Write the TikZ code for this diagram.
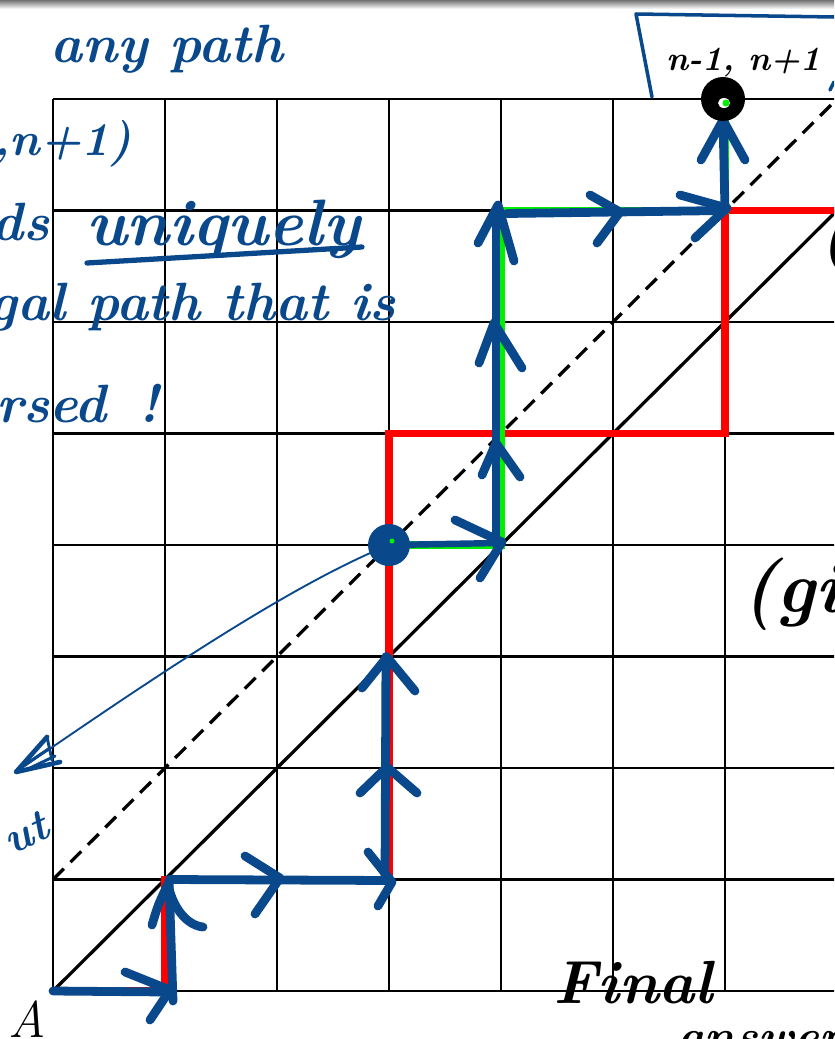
\documentclass[tikz,border=0pt]{standalone}
\usetikzlibrary{calc}
\definecolor{ink}{RGB}{10,72,140}
\definecolor{redp}{RGB}{255,0,0}
\definecolor{greenp}{RGB}{0,240,0}
\newcommand\chv[3]{\draw[blu] #1 ++#2 -- #1 -- ++#3;}
\tikzset{
  gridline/.style={draw=black, line width=2pt},
  diag/.style={draw=black, line width=2.8pt},
  redpath/.style={draw=redp, line width=6.5pt, line join=miter},
  greenpath/.style={draw=greenp, line width=6pt},
  blu/.style={draw=ink, line width=7.5pt, line cap=round, line join=round},
  hand/.style={font=\fontsize{46}{46}\selectfont\bfseries\itshape, text=ink, inner sep=0pt},
  handk/.style={font=\fontsize{52}{52}\selectfont\bfseries\itshape, text=black, inner sep=0pt},
}
\begin{document}
\begin{tikzpicture}[x=0.03cm,y=-0.03cm]
\useasboundingbox (0,0) rectangle (834,1039);
\clip (0,0) rectangle (834,1039);
\fill[white] (0,0) rectangle (834,1039);
\shade[top color=black!55, bottom color=white] (0,0) rectangle (834,9);
% grid points
\foreach \i in {0,...,7}{\foreach \j in {0,...,8}{
  \coordinate (g\i\j) at ({53+112*\i},{991-111.5*\j});}}
% grid
\foreach \i in {0,...,6}{\draw[gridline] (g\i0) -- (g\i8);}
\foreach \j in {0,...,8}{\draw[gridline] (g0\j) -- (g7\j);}
% diagonals
\draw[diag] (g00) -- (g77);
\draw[diag, dash pattern=on 13pt off 8pt] (g01) -- (g78);
% red path
\draw[redpath] (g00) -- (g10) -- (g11) -- (g31) -- (g35) -- (g65) -- (g67) -- (g77);
% green path
\draw[greenpath] (g34) -- (g44) -- (g47) -- (g67) -- (g68);
% blue path (hand drawn strokes)
\draw[blu] (g00) -- ($(g10)+(3,1)$);
\draw[blu] ($(g10)+(8,10)$) -- ($(g11)+(4,0)$) -- ($(g31)+(1,1)$);
\draw[blu] ($(g31)+(-4,0)$) -- ($(g33)+(-3,0)$);
\draw[blu, line width=5.5pt] (g34) -- ($(g44)+(-1,-2)$);
\draw[blu] ($(g44)+(-5,0)$) -- ($(g47)+(-5,0)$);
\draw[blu] ($(g47)+(6,3)$) -- ($(g67)+(0,0)$) -- ($(g68)+(-2,20)$);
% chevrons (right)
\chv{(170,990)}{(-45,-18)}{(-20,30)}
\chv{(280,878)}{(-35,-22)}{(-25,36)}
\chv{(392,882)}{(-24,-30)}{(-14,24)}
\chv{(502,542)}{(-47,-22)}{(-22,36)}
\chv{(620,212)}{(-30,-17)}{(-23,31)}
\chv{(727,208)}{(-47,-13)}{(-32,30)}
% chevrons (up)
\draw[blu] (152,925) .. controls (158,905) .. (168,884) .. controls (172,905) and (185,925) .. (203,927);
\chv{(387,767)}{(-27,26)}{(30,26)}
\chv{(387,657)}{(-25,31)}{(28,34)}
\chv{(496,443)}{(-14,32)}{(24,34)}
\chv{(494,323)}{(-15,40)}{(28,45)}
\chv{(498,205)}{(-20,38)}{(16,56)}
\chv{(723,120)}{(-22,40)}{(22,40)}
% dots
\fill[ink] (g34) circle (21);
\fill[greenp] (392,541) circle (2.5);
\node[circle, fill=black, minimum size=44*0.03cm, inner sep=0pt] (top) at (723,99) {};
\fill[white] (724,103) ellipse (6 and 5);
\fill[greenp] (726,103) circle (3.5);
% thin curved arrow
\coordinate (tipL) at (16,772);
\draw[ink, line width=1.6pt] (g34) .. controls (290,585) and (150,680) .. (tipL);
\draw[ink, line width=4pt, line join=round, line cap=round] (47,737) -- (tipL) -- (60,762);
\draw[ink, line width=2.5pt, line cap=round] (47,737) -- (52,760) (26,764) -- (50,748) (30,768) -- (55,756);
% box around n-1,n+1
\draw[ink, line width=3pt, line cap=round, line join=round] (652,97) -- (636,14) -- (834,17);
\draw[ink, line width=3pt, line cap=round] (830,90) -- (834,82);
% blue handwriting
\node[hand, anchor=base west] (t1) at (50,63) {any path};
\node[hand, font=\fontsize{40}{40}\selectfont\bfseries\itshape, anchor=base east] (t2) at (132,155) {1,n+1)};
\node[hand, anchor=base east] (t3) at (50,240) {ds};
\node[hand, font=\fontsize{56}{56}\selectfont\bfseries\itshape, anchor=base west] (t4) at (86,245) {uniquely};
\draw[ink, line width=4.5pt, line cap=round] (87,263) -- (362,247);
\node[hand, anchor=base east] (t5) at (396,320) {gal path that is};
\node[hand, anchor=base east] (t6) at (107,422) {ersed};
\node[hand, anchor=base west] (t7) at (138,422) {!};
\node[hand, font=\fontsize{38}{38}\selectfont\bfseries\itshape, anchor=base east, rotate=25] (t8) at (52,836) {ut};
% black handwriting
\node[handk, font=\fontsize{29}{29}\selectfont\bfseries\itshape, anchor=base west] (b1) at (666,70) {n-1, n+1};
\node[handk, anchor=west] (b2) at (820,240) {(};
\node[handk, font=\fontsize{62}{62}\selectfont\bfseries\itshape, anchor=base west] (b3) at (742,612) {(gi};
\node[handk, font=\fontsize{52}{52}\selectfont\bfseries\itshape, anchor=base west] (b4) at (553,1003) {Final};
\node[handk, font=\fontsize{40}{40}\selectfont\bfseries\itshape, anchor=base west] (b5) at (677,1052) {answer:};
% A label
\node[font=\fontsize{44}{44}\selectfont\itshape, inner sep=0pt] (lblA) at (27,1019) {A};
\end{tikzpicture}
\end{document}
